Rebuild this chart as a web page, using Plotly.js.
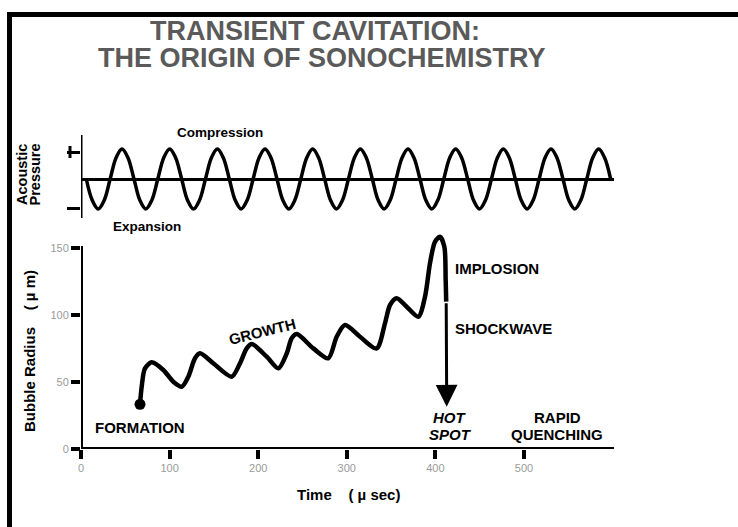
<!DOCTYPE html>
<html>
<head>
<meta charset="utf-8">
<script src="https://cdn.plot.ly/plotly-3.0.1.min.js"></script>
<style>html,body{margin:0;padding:0;background:#fff;}#chart{width:738px;height:527px;}</style>
</head>
<body>
<div id="chart"></div>
<script>
// ---- Data ----
// Bubble radius (µm) vs time (µs)
const timeUs = [66.6, 68.5, 72.2, 79.8, 92.9, 104.2, 113.6, 121.1, 128.7, 134.3, 149.3, 170.1, 179.5, 187.0, 192.7, 209.6, 222.7, 232.2, 237.8, 243.5, 262.2, 279.1, 288.6, 298.0, 314.9, 333.7, 343.1, 348.8, 356.3, 367.6, 380.7, 388.3, 393.9, 399.5, 405.2, 410.1, 411.6, 412.2];
const radiusUm = [33.4, 46.5, 60.2, 64.7, 59.0, 50.2, 46.5, 54.0, 67.7, 71.4, 64.0, 54.0, 64.0, 75.1, 78.4, 68.9, 60.2, 71.4, 82.6, 85.8, 75.1, 67.7, 83.8, 92.5, 83.8, 75.1, 93.8, 107.5, 112.5, 106.2, 98.7, 113.7, 138.6, 154.7, 158.4, 151.0, 126.1, 110.0];
// Formation point
const formationTime = [66.6];
const formationRadius = [33.4];
// Implosion arrow: from end of curve to the hot spot
const arrowTail = {t: 412.2, r: 110.0};
const arrowTip = {t: 412.8, r: 31.6};
// Acoustic pressure (relative), read at eighth-period steps along the wave
const waveTime = [6.0, 12.7, 19.4, 26.2, 32.9, 39.6, 46.3, 53.0, 59.8, 66.5, 73.2, 79.9, 86.7, 93.4, 100.1, 106.8, 113.6, 120.3, 127.0, 133.7, 140.5, 147.2, 153.9, 160.6, 167.4, 174.1, 180.8, 187.5, 194.3, 201.0, 207.7, 214.4, 221.2, 227.9, 234.6, 241.3, 248.1, 254.8, 261.5, 268.2, 275.0, 281.7, 288.4, 295.1, 301.9, 308.6, 315.3, 322.0, 328.8, 335.5, 342.2, 348.9, 355.7, 362.4, 369.1, 375.8, 382.6, 389.3, 396.0, 402.7, 409.5, 416.2, 422.9, 429.6, 436.4, 443.1, 449.8, 456.5, 463.3, 470.0, 476.7, 483.4, 490.2, 496.9, 503.6, 510.3, 517.1, 523.8, 530.5, 537.2, 544.0, 550.7, 557.4, 564.1, 570.9, 577.6, 584.3, 591.0, 597.8];
const wavePressure = [
  0, -0.71, -1, -0.71, 0, 0.71, 1, 0.71,
  0, -0.71, -1, -0.71, 0, 0.71, 1, 0.71,
  0, -0.71, -1, -0.71, 0, 0.71, 1, 0.71,
  0, -0.71, -1, -0.71, 0, 0.71, 1, 0.71,
  0, -0.71, -1, -0.71, 0, 0.71, 1, 0.71,
  0, -0.71, -1, -0.71, 0, 0.71, 1, 0.71,
  0, -0.71, -1, -0.71, 0, 0.71, 1, 0.71,
  0, -0.71, -1, -0.71, 0, 0.71, 1, 0.71,
  0, -0.71, -1, -0.71, 0, 0.71, 1, 0.71,
  0, -0.71, -1, -0.71, 0, 0.71, 1, 0.71,
  0, -0.71, -1, -0.71, 0, 0.71, 1, 0.71,
  0];
// Tick labels
const xTicks = [0, 100, 200, 300, 400, 500];
const yTicks = [0, 50, 100, 150];
const pressureTicks = [0.9, -0.97];

// ---- Layout helpers (pixel -> paper) ----
const W = 738, H = 527;
const px = v => v / W;
const py = v => 1 - v / H;
const FONT = 'Arial, "Liberation Sans", sans-serif';

const traces = [
  {x: waveTime, y: wavePressure, xaxis: 'x2', yaxis: 'y2', mode: 'lines',
   line: {color: '#000', width: 3.5, shape: 'spline', smoothing: 1}, hoverinfo: 'skip'},
  {x: timeUs, y: radiusUm, mode: 'lines',
   line: {color: '#000', width: 4.5, shape: 'spline', smoothing: 0.8}, cliponaxis: false, hoverinfo: 'skip'},
  {x: formationTime, y: formationRadius, mode: 'markers',
   marker: {color: '#000', size: 11}, cliponaxis: false, hoverinfo: 'skip'}
];

function lbl(text, x, y, size, opts) {
  return Object.assign({text: text, xref: 'paper', yref: 'paper', x: px(x), y: py(y),
    showarrow: false, xanchor: 'center', yanchor: 'middle',
    font: {family: FONT, size: size, color: '#000'}}, opts || {});
}
const NB = '\u00a0';

const layout = {
  width: W, height: H,
  margin: {l: 0, r: 0, t: 0, b: 0, pad: 0},
  paper_bgcolor: '#fff', plot_bgcolor: 'rgba(0,0,0,0)',
  showlegend: false,
  xaxis: {domain: [px(81), px(614)], range: [0, 601.6], anchor: 'y',
    showgrid: false, zeroline: false, showline: false,
    tickmode: 'array', tickvals: xTicks, ticktext: xTicks.map(String),
    ticks: 'outside', ticklen: 9, tickwidth: 4, tickcolor: '#000',
    tickfont: {family: FONT, size: 11, color: '#9a9a9a'}},
  yaxis: {domain: [py(449), py(232)], range: [0, 162], anchor: 'x',
    showgrid: false, zeroline: false, showline: false,
    tickmode: 'array', tickvals: yTicks, ticktext: yTicks.map(String),
    ticks: 'outside', ticklen: 9, tickwidth: 4, tickcolor: '#000',
    tickfont: {family: FONT, size: 11, color: '#9a9a9a'}},
  xaxis2: {domain: [px(81), px(614)], range: [0, 601.6], anchor: 'y2', visible: false},
  yaxis2: {domain: [py(218), py(135)], range: [-1.3, 1.467], anchor: 'x2',
    showgrid: false, showline: false,
    zeroline: true, zerolinewidth: 3, zerolinecolor: '#000',
    tickmode: 'array', tickvals: pressureTicks, ticktext: ['', ''],
    ticks: 'outside', ticklen: 13, tickwidth: 3, tickcolor: '#000'},
  shapes: [
    // frame
    {type: 'rect', xref: 'paper', yref: 'paper', x0: px(7), x1: px(12), y0: 0, y1: py(12), fillcolor: '#000', line: {width: 0}},
    {type: 'rect', xref: 'paper', yref: 'paper', x0: px(7), x1: 1, y0: py(17), y1: py(12), fillcolor: '#000', line: {width: 0}},
    // bottom axes lines
    {type: 'line', xref: 'x', yref: 'y', x0: -1, x1: 601.6, y0: 0, y1: 0, line: {color: '#000', width: 4}},
    {type: 'line', xref: 'x', yref: 'y', x0: 0, x1: 0, y0: -1, y1: 151.5, line: {color: '#000', width: 4}},
    // top axis line
    {type: 'line', xref: 'x2', yref: 'y2 domain', x0: 0, x1: 0, y0: 0, y1: 1, line: {color: '#000', width: 3}},
    // vertical stroke of the "+" sign
    {type: 'line', xref: 'paper', yref: 'paper', x0: px(70), x1: px(70), y0: py(158), y1: py(146), line: {color: '#000', width: 3}}
  ],
  annotations: [
    lbl('<b>TRANSIENT CAVITATION:</b>', 315, 31, 27, {font: {family: FONT, size: 27, color: '#5a5a5a'}}),
    lbl('<b>THE ORIGIN OF SONOCHEMISTRY</b>', 322, 58, 27, {font: {family: FONT, size: 27, color: '#5a5a5a'}}),
    lbl('<b>Compression</b>', 220, 132, 13.5),
    lbl('<b>Expansion</b>', 147, 227, 13.5),
    lbl('<b>Acoustic</b>', 22, 175, 14.5, {textangle: -90}),
    lbl('<b>Pressure</b>', 34.5, 175, 14.5, {textangle: -90}),
    lbl('<b>Bubble Radius' + NB + NB + NB + NB + '(' + NB + 'µ' + NB + 'm)</b>', 29, 351, 15, {textangle: -90}),
    lbl('<b>Time' + NB + NB + NB + NB + '(' + NB + 'µ' + NB + 'sec)</b>', 348, 494, 15),
    lbl('<b>FORMATION</b>', 140, 427, 15),
    lbl('<b>GROWTH</b>', 262, 331, 15, {textangle: -14}),
    lbl('<b>IMPLOSION</b>', 453, 268, 15, {xanchor: 'left'}),
    lbl('<b>SHOCKWAVE</b>', 453, 328, 15, {xanchor: 'left'}),
    lbl('<b><i>HOT</i></b>', 450, 417, 15),
    lbl('<b><i>SPOT</i></b>', 450, 434, 15),
    lbl('<b>RAPID</b>', 557, 417, 15),
    lbl('<b>QUENCHING</b>', 557, 434, 15),
    {xref: 'x', yref: 'y', axref: 'x', ayref: 'y', x: arrowTip.t, y: arrowTip.r,
     ax: arrowTail.t, ay: arrowTail.r, text: '', showarrow: true,
     arrowhead: 2, arrowsize: 1.45, arrowwidth: 3, arrowcolor: '#000', standoff: 0, startstandoff: 0}
  ]
};

Plotly.newPlot('chart', traces, layout, {displayModeBar: false, staticPlot: true});
</script>
</body>
</html>
